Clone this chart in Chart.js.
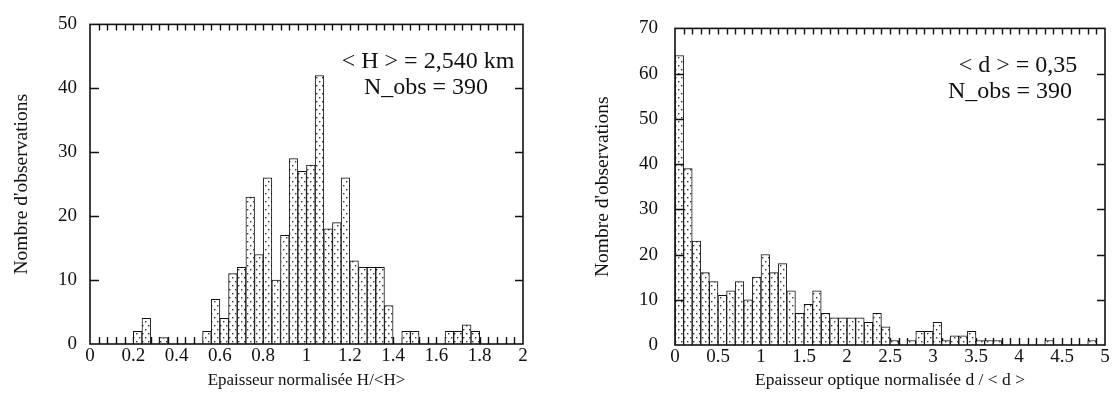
<!DOCTYPE html>
<html><head><meta charset="utf-8">
<script src="https://cdn.jsdelivr.net/npm/chart.js@4.4.1/dist/chart.umd.min.js"></script>
<style>
html,body{margin:0;padding:0;background:#fff;}
#wrap{position:relative;width:1114px;height:414px;}
.c{position:absolute;top:0;width:557px;height:414px;}
</style></head><body>
<div id="wrap">
<div class="c" style="left:0"><canvas id="c1" width="557" height="414"></canvas></div>
<div class="c" style="left:557px"><canvas id="c2" width="557" height="414"></canvas></div>
</div>
<script>
// ---- Left histogram: normalised thickness H/<H>, bins of 0.04 from 0 to 2
const binWidthH = 0.04;
const countsH = [0,0,0,0,0,2,4,0,1,0,0,0,0,2,7,4,11,12,23,14,26,10,17,29,27,28,42,18,19,26,13,12,12,12,6,0,2,2,0,0,0,2,2,3,2,0,0,0,0,0];
const xTicksH = [0,0.2,0.4,0.6,0.8,1,1.2,1.4,1.6,1.8,2];
const yTicksH = [0,10,20,30,40,50];
const annotH = ['< H > = 2,540 km','N_obs = 390'];
const xTitleH = 'Epaisseur normalisée H/<H>';

// ---- Right histogram: normalised optical thickness d/<d>, bins of 0.1 from 0 to 5
const binWidthD = 0.1;
const countsD = [64,39,23,16,14,11,12,14,10,15,20,16,18,12,7,9,12,7,6,6,6,6,5,7,4,1,0,1,3,3,5,1,2,2,3,1,1,1,0,0,0,0,0,1,0,0,0,0,1,0];
const xTicksD = [0,0.5,1,1.5,2,2.5,3,3.5,4,4.5,5];
const yTicksD = [0,10,20,30,40,50,60,70];
const annotD = ['< d > = 0,35','N_obs = 390'];
const xTitleD = 'Epaisseur optique normalisée d / < d >';

const yTitle = "Nombre d'observations";
const FONT = '"Liberation Serif", "DejaVu Serif", serif';

function makePattern(){
  const p = document.createElement('canvas');
  p.width = 6; p.height = 8;
  const g = p.getContext('2d');
  g.fillStyle = '#fff'; g.fillRect(0,0,6,8);
  g.fillStyle = '#333';
  g.fillRect(1,1,1.4,1.4);
  g.fillRect(4,5,1.4,1.4);
  return g.createPattern(p,'repeat');
}

function buildChart(id, cfg){
  const ctx = document.getElementById(id).getContext('2d');
  const pattern = makePattern();
  const data = cfg.counts.map((v,i)=>({x:(i+0.5)*cfg.binWidth, y:v}));
  const edges = cfg.counts.map((_,i)=>i*cfg.binWidth).slice(1);
  const framePlugin = {
    id:'frame'+id,
    beforeDatasetsDraw(chart){
      const {ctx, chartArea:a, scales:{x}} = chart;
      ctx.save();
      ctx.strokeStyle = '#111'; ctx.lineWidth = 1.4;
      ctx.beginPath();
      edges.forEach(e=>{
        const px = Math.round(x.getPixelForValue(e))+0.5;
        ctx.moveTo(px, a.bottom); ctx.lineTo(px, a.bottom-7);
      });
      ctx.stroke();
      ctx.restore();
    },
    afterDatasetsDraw(chart){
      const {ctx, chartArea:a, scales:{x, y}} = chart;
      ctx.save();
      ctx.strokeStyle = '#111'; ctx.lineWidth = 1.4;
      ctx.beginPath();
      edges.forEach(e=>{
        const px = Math.round(x.getPixelForValue(e))+0.5;
        ctx.moveTo(px, a.top); ctx.lineTo(px, a.top+6);
      });
      cfg.yTicks.slice(1,-1).forEach(v=>{
        const py = Math.round(y.getPixelForValue(v))+0.5;
        ctx.moveTo(a.left, py); ctx.lineTo(a.left+9, py);
        ctx.moveTo(a.right, py); ctx.lineTo(a.right-8, py);
      });
      ctx.stroke();
      ctx.lineWidth = 1.6;
      ctx.strokeRect(a.left, a.top, a.right-a.left, a.bottom-a.top);
      ctx.fillStyle = '#111';
      ctx.font = '24px ' + FONT;
      ctx.textAlign = 'center';
      ctx.textBaseline = 'alphabetic';
      ctx.fillText(cfg.annot[0], a.right - cfg.annotDx[0], a.top + 44);
      ctx.fillText(cfg.annot[1], a.right - cfg.annotDx[1], a.top + 70);
      ctx.restore();
    }
  };
  return new Chart(ctx, {
    type:'bar',
    data:{datasets:[{data, backgroundColor:pattern, borderColor:'#111', borderWidth:1, borderSkipped:'bottom', barPercentage:1, categoryPercentage:1}]},
    options:{
      responsive:false, animation:false, devicePixelRatio:1,
      layout:{padding:{left:0, top:21, right:cfg.padRight, bottom:0}},
      plugins:{legend:{display:false}, tooltip:{enabled:false}},
      scales:{
        x:{type:'linear', min:0, max:cfg.xMax, offset:false,
          afterBuildTicks(s){ s.ticks = cfg.xTicks.map(v=>({value:v})); },
          afterFit(s){ s.height = cfg.xHeight; },
          grid:{display:false, drawTicks:false, offset:false}, border:{display:false},
          ticks:{color:'#111', font:{family:FONT, size:19}, padding:1, maxRotation:0, autoSkip:false,
                 callback:(v)=>String(v)},
          title:{display:true, text:cfg.xTitle, color:'#111', font:{family:FONT, size:cfg.xTitleSize}, padding:{top:0,bottom:23}}
        },
        y:{type:'linear', min:0, max:cfg.yMax,
          afterBuildTicks(s){ s.ticks = cfg.yTicks.map(v=>({value:v})); },
          afterFit(s){ s.width = cfg.yWidth; },
          grid:{display:false, drawTicks:false}, border:{display:false},
          ticks:{color:'#111', font:{family:FONT, size:19}, padding:cfg.yTickPad, callback:(v)=>String(v)},
          title:{display:true, text:yTitle, color:'#111', font:{family:FONT, size:19.5}, padding:{top:cfg.yTitlePad,bottom:0}}
        }
      }
    },
    plugins:[framePlugin]
  });
}

buildChart('c1', {counts:countsH, binWidth:binWidthH, xTicks:xTicksH, yTicks:yTicksH, xMax:2, yMax:50,
  annot:annotH, annotDx:[95,97], xTitle:xTitleH, xTitleSize:17, padRight:34, xHeight:70, yWidth:90, yTitlePad:10, yTickPad:13});
buildChart('c2', {counts:countsD, binWidth:binWidthD, xTicks:xTicksD, yTicks:yTicksD, xMax:5, yMax:70,
  annot:annotD, annotDx:[87,95], xTitle:xTitleD, xTitleSize:17.5, padRight:9, xHeight:69, yWidth:118, yTitlePad:34, yTickPad:17});
</script>
</body></html>
